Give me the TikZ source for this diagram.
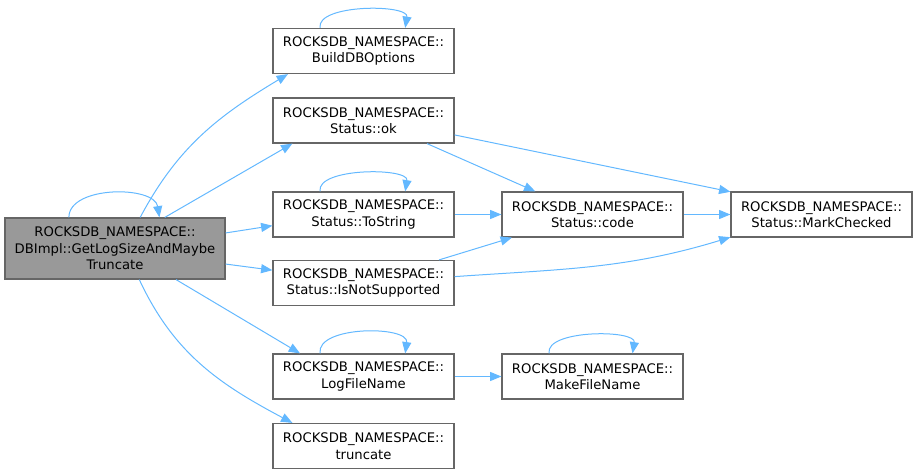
\documentclass[tikz,border=0pt]{standalone}
\usepackage{fontspec}
\setmainfont{DejaVu Sans}
\usetikzlibrary{arrows.meta}
\definecolor{edgeblue}{RGB}{99,184,255}
\definecolor{boxgrey}{RGB}{102,102,102}
\definecolor{callergrey}{RGB}{153,153,153}

\begin{document}
\begin{tikzpicture}[
    x=0.75pt,y=0.75pt,
    fnbox/.style={draw=boxgrey,fill=white,line width=0.9pt,
      minimum width=135.75pt,minimum height=33.75pt,align=center,
      inner sep=2pt,font=\fontsize{9.9}{12.4}\selectfont},
    rootbox/.style={fnbox,fill=callergrey,minimum width=165pt,minimum height=45.75pt},
    call/.style={-{Triangle[length=8.5pt,width=6.8pt]},line width=0.75pt,draw=edgeblue}
  ]
    \useasboundingbox (0,0) rectangle (918,-474);
    \node[rootbox] (root) at (115,-248.5) {ROCKSDB\_NAMESPACE::\\DBImpl::GetLogSizeAndMaybe\\Truncate};
    \node[fnbox] (builddb) at (363.5,-51) {ROCKSDB\_NAMESPACE::\\BuildDBOptions};
    \node[fnbox] (statusok) at (363.5,-120.5) {ROCKSDB\_NAMESPACE::\\Status::ok};
    \node[fnbox] (tostring) at (363.5,-214.5) {ROCKSDB\_NAMESPACE::\\Status::ToString};
    \node[fnbox] (notsupported) at (363.5,-283) {ROCKSDB\_NAMESPACE::\\Status::IsNotSupported};
    \node[fnbox] (logfilename) at (363.5,-376.5) {ROCKSDB\_NAMESPACE::\\LogFileName};
    \node[fnbox] (truncate) at (363.5,-446) {ROCKSDB\_NAMESPACE::\\truncate};
    \node[fnbox] (code) at (592.5,-214.5) {ROCKSDB\_NAMESPACE::\\Status::code};
    \node[fnbox] (markchecked) at (821.5,-214.5) {ROCKSDB\_NAMESPACE::\\Status::MarkChecked};
    \node[fnbox] (makefilename) at (592.5,-376.5) {ROCKSDB\_NAMESPACE::\\MakeFileName};
    % calls out of the root function
    \draw[call] (root.146) .. controls +(0,32) and +(-5,32) .. (root.35);
    \draw[call] (root.51) to[out=62,in=-149] (builddb.-163);
    \draw[call] (root.32) -- (statusok.-162);
    \draw[call] (root.8) -- (tostring.187);
    \draw[call] (root.-8.5) -- (notsupported.172);
    \draw[call] (root.-27) -- (logfilename.160);
    \draw[call] (root.-52) to[out=-65,in=152] (truncate.162);
    % second level
    \draw[call] (builddb.152) .. controls +(-4,24) and +(4,24) .. (builddb.29);
    \draw[call] (statusok.-20) -- (code.158);
    \draw[call] (statusok.-9) -- (markchecked.166);
    \draw[call] (tostring.152) .. controls +(-4,24) and +(4,24) .. (tostring.29);
    \draw[call] (tostring.east) -- (code.west);
    \draw[call] (notsupported.17) -- (code.-164);
    \draw[call] (notsupported.4) to[out=4,in=-163] (markchecked.-166);
    \draw[call] (code.east) -- (markchecked.west);
    \draw[call] (logfilename.152) .. controls +(-4,28) and +(4,28) .. (logfilename.29);
    \draw[call] (logfilename.east) -- (makefilename.west);
    \draw[call] (makefilename.152) .. controls +(-4,24) and +(4,24) .. (makefilename.30);
  \end{tikzpicture}
\end{document}
